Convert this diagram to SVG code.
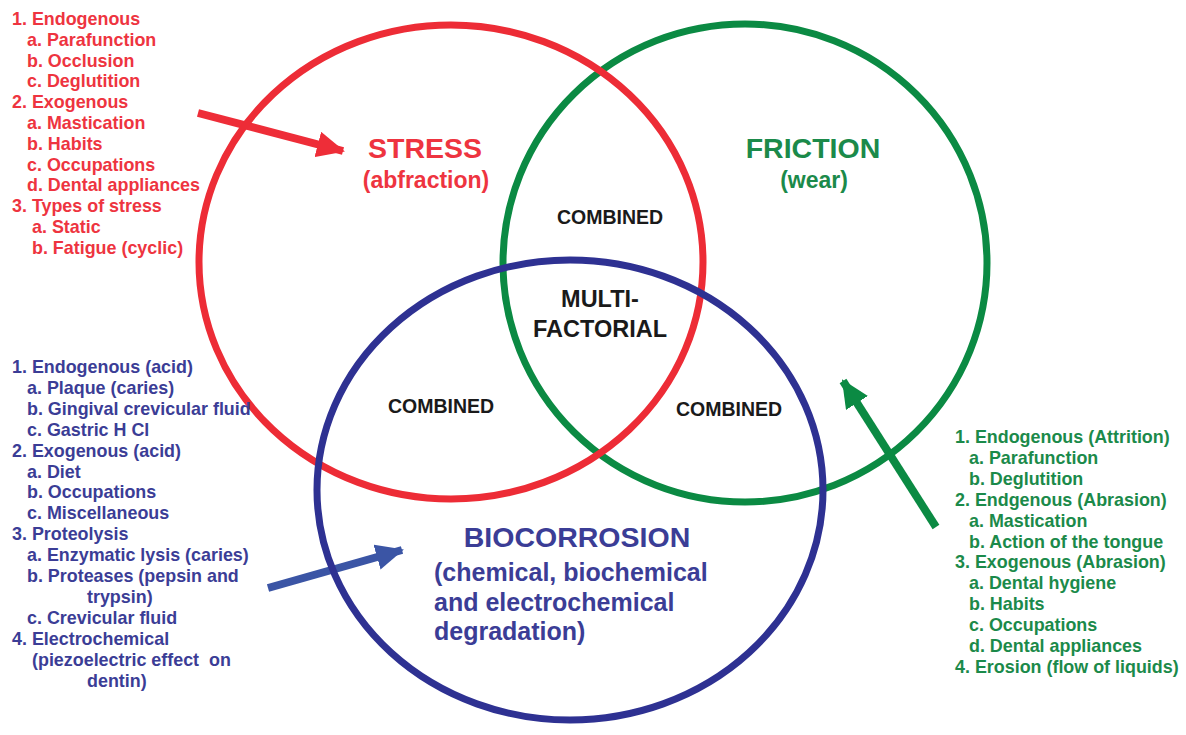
<svg xmlns="http://www.w3.org/2000/svg" width="1186" height="735" viewBox="0 0 1186 735">
<defs>
<style>
text{font-family:"Liberation Sans",Arial,sans-serif;font-weight:bold}
.lst{font-size:17.9px}
.r{fill:#EE3440}
.g{fill:#1B8A4A}
.b{fill:#3B3D96}
.k{fill:#1a1a1a}
.ring{fill:none;stroke-width:7}
.big{font-size:28.5px}
.sub{font-size:23px}
.bsub{font-size:25px}
.cmb{font-size:19.5px}
.mf{font-size:23.5px}
.mid{text-anchor:middle}
</style>
<marker id="hr" markerUnits="userSpaceOnUse" markerWidth="28" markerHeight="26" refX="26" refY="13" orient="auto"><path d="M0,0 L28,13 L0,26 Z" fill="#EE2D38"/></marker>
<marker id="hb" markerUnits="userSpaceOnUse" markerWidth="28" markerHeight="26" refX="26" refY="13" orient="auto"><path d="M0,0 L28,13 L0,26 Z" fill="#3B55A5"/></marker>
<marker id="hg" markerUnits="userSpaceOnUse" markerWidth="28" markerHeight="26" refX="26" refY="13" orient="auto"><path d="M0,0 L28,13 L0,26 Z" fill="#0B8A43"/></marker>
</defs>
<rect width="1186" height="735" fill="#ffffff"/>

<g id="connectors">
<line x1="198" y1="113" x2="343" y2="151" stroke="#EE2D38" stroke-width="8" marker-end="url(#hr)"/>
<line x1="268" y1="588" x2="402" y2="550" stroke="#3B55A5" stroke-width="8" marker-end="url(#hb)"/>
<line x1="936" y1="527" x2="843" y2="381" stroke="#0B8A43" stroke-width="8" marker-end="url(#hg)"/>
</g>

<g id="friction">
<ellipse class="ring" cx="745" cy="263" rx="242" ry="239" stroke="#0B8A43"/>
<text class="big g mid" x="813" y="158">FRICTION</text>
<text class="sub g mid" x="814" y="188">(wear)</text>
</g>

<g id="stress">
<ellipse class="ring" cx="451" cy="262" rx="252" ry="237" stroke="#ED2C36"/>
<text class="big r mid" x="425" y="158">STRESS</text>
<text class="sub r mid" x="426" y="188">(abfraction)</text>
</g>

<g id="biocorrosion">
<ellipse class="ring" cx="570" cy="490" rx="253" ry="230" stroke="#2E3192"/>
<text class="big b mid" x="577" y="547">BIOCORROSION</text>
<text class="bsub b" x="434" y="581">(chemical, biochemical</text>
<text class="bsub b" x="434" y="611">and electrochemical</text>
<text class="bsub b" x="434" y="640">degradation)</text>
</g>

<g id="combined-stress-friction"><text class="cmb k mid" x="610" y="224">COMBINED</text></g>
<g id="multifactorial">
<text class="mf k mid" x="600" y="307">MULTI-</text>
<text class="mf k mid" x="600" y="337">FACTORIAL</text>
</g>
<g id="combined-stress-bio"><text class="cmb k mid" x="441" y="413">COMBINED</text></g>
<g id="combined-friction-bio"><text class="cmb k mid" x="729" y="416">COMBINED</text></g>

<g id="stress-causes">
<text class="lst r">
<tspan x="12" y="25">1. Endogenous</tspan>
<tspan x="27" y="45.8">a. Parafunction</tspan>
<tspan x="27" y="66.6">b. Occlusion</tspan>
<tspan x="27" y="87.4">c. Deglutition</tspan>
<tspan x="12" y="108.2">2. Exogenous</tspan>
<tspan x="27" y="129">a. Mastication</tspan>
<tspan x="27" y="149.8">b. Habits</tspan>
<tspan x="27" y="170.6">c. Occupations</tspan>
<tspan x="27" y="191.4">d. Dental appliances</tspan>
<tspan x="12" y="212.2">3. Types of stress</tspan>
<tspan x="32" y="233">a. Static</tspan>
<tspan x="32" y="253.8">b. Fatigue (cyclic)</tspan>
</text>
</g>

<g id="biocorrosion-causes">
<text class="lst b" xml:space="preserve"><tspan x="12" y="373">1. Endogenous (acid)</tspan><tspan x="27" y="393.9">a. Plaque (caries)</tspan><tspan x="27" y="414.8">b. Gingival crevicular fluid</tspan><tspan x="27" y="435.7">c. Gastric H Cl</tspan><tspan x="12" y="456.6">2. Exogenous (acid)</tspan><tspan x="27" y="477.5">a. Diet</tspan><tspan x="27" y="498.4">b. Occupations</tspan><tspan x="27" y="519.3">c. Miscellaneous</tspan><tspan x="12" y="540.2">3. Proteolysis</tspan><tspan x="27" y="561.1">a. Enzymatic lysis (caries)</tspan><tspan x="27" y="582">b. Proteases (pepsin and</tspan><tspan x="87" y="602.9">trypsin)</tspan><tspan x="27" y="623.8">c. Crevicular fluid</tspan><tspan x="12" y="644.7">4. Electrochemical</tspan><tspan x="32" y="665.6">(piezoelectric effect  on</tspan><tspan x="87" y="686.5">dentin)</tspan></text>
</g>

<g id="friction-causes">
<text class="lst g">
<tspan x="955" y="443">1. Endogenous (Attrition)</tspan>
<tspan x="969" y="463.9">a. Parafunction</tspan>
<tspan x="969" y="484.8">b. Deglutition</tspan>
<tspan x="955" y="505.7">2. Endgenous (Abrasion)</tspan>
<tspan x="969" y="526.6">a. Mastication</tspan>
<tspan x="969" y="547.5">b. Action of the tongue</tspan>
<tspan x="955" y="568.4">3. Exogenous (Abrasion)</tspan>
<tspan x="969" y="589.3">a. Dental hygiene</tspan>
<tspan x="969" y="610.2">b. Habits</tspan>
<tspan x="969" y="631.1">c. Occupations</tspan>
<tspan x="969" y="652">d. Dental appliances</tspan>
<tspan x="955" y="672.9">4. Erosion (flow of liquids)</tspan>
</text>
</g>
</svg>
